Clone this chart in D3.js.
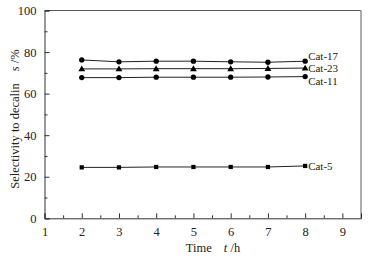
<!DOCTYPE html>
<html><head><meta charset="utf-8">
<script src="https://cdn.jsdelivr.net/npm/d3@7"></script>
<style>body{margin:0;background:#fff}svg{display:block}text{font-family:"Liberation Serif","Times New Roman",serif}</style>
</head><body><svg id="c" width="372" height="261"></svg>
<script>
const times = [2,3,4,5,6,7,8];
const cat17 = [76.2,75.3,75.6,75.6,75.3,75.1,75.6];
const cat23 = [71.9,71.9,72.0,72.0,72.0,72.1,72.3];
const cat11 = [67.7,67.7,67.9,67.9,67.9,68.0,68.2];
const cat5  = [24.5,24.5,24.7,24.7,24.7,24.7,25.2];
const xTicks = [1,2,3,4,5,6,7,8,9];
const yTicks = [0,20,40,60,80,100];
const series = [
  {name:"Cat-17", values:cat17, marker:"circle"},
  {name:"Cat-23", values:cat23, marker:"triangle"},
  {name:"Cat-11", values:cat11, marker:"circle"},
  {name:"Cat-5",  values:cat5,  marker:"square"}
];
const svg = d3.select("#c");
const L=44.5, R=361, T=10.5, B=218.3;
const x = d3.scaleLinear().domain([1,9.5]).range([L,R]);
const y = d3.scaleLinear().domain([0,100]).range([B,T]);

// frame
svg.append("line").attr("x1",L).attr("x2",R).attr("y1",T).attr("y2",T).attr("stroke","#555").attr("stroke-width",1);
svg.append("line").attr("x1",R).attr("x2",R).attr("y1",T).attr("y2",B).attr("stroke","#999").attr("stroke-width",1.6);

// axes
const xAxis = svg.append("g").attr("transform",`translate(0,${B})`)
  .call(d3.axisBottom(x).tickValues(xTicks).tickSize(-5).tickPadding(9).tickFormat(d3.format("d")));
const xMinor = svg.append("g").attr("transform",`translate(0,${B})`)
  .call(d3.axisBottom(x).tickValues(d3.range(1.5,9.5,1)).tickSize(-3).tickFormat(""));
const yAxis = svg.append("g").attr("transform",`translate(${L},0)`)
  .call(d3.axisLeft(y).tickValues(yTicks).tickSize(-5).tickPadding(8));
const yMinor = svg.append("g").attr("transform",`translate(${L},0)`)
  .call(d3.axisLeft(y).tickValues(d3.range(10,100,20)).tickSize(-3).tickFormat(""));
[xAxis,xMinor,yAxis,yMinor].forEach(g=>{
  g.select(".domain").attr("stroke","#333");
  g.selectAll(".tick line").attr("stroke","#333");
  g.selectAll("text").attr("font-size",12.5).attr("fill","#222");
});
xMinor.select(".domain").remove(); yMinor.select(".domain").remove();

// lines and markers
const line = d3.line().x((d,i)=>x(times[i])).y(d=>y(d));
series.forEach(s=>{
  svg.append("path").datum(s.values).attr("d",line).attr("fill","none").attr("stroke","#222").attr("stroke-width",1);
  const sym = s.marker==="circle"?d3.symbolCircle:(s.marker==="triangle"?d3.symbolTriangle:d3.symbolSquare);
  const size = s.marker==="circle"?22:(s.marker==="triangle"?20:18);
  svg.append("g").selectAll("path").data(s.values).join("path")
    .attr("d",d3.symbol(sym,size)).attr("fill","#000")
    .attr("transform",(d,i)=>`translate(${x(times[i])},${y(d)+(s.marker==="triangle"?0.5:0)})`);
});
// series labels (placed at the last point, spread vertically like the reference)
svg.append("g").selectAll("text").data(series).join("text")
  .attr("x",x(times[times.length-1])+3)
  .attr("y",(s,i)=>{const last=s.values[s.values.length-1]; return y(last)+[-1.7,4.4,8.9,4.2][i];})
  .attr("font-size",11).attr("fill","#222").text(s=>s.name);

// axis titles
const xt = svg.append("text").attr("x",213).attr("y",252).attr("text-anchor","middle").attr("font-size",12.5).attr("fill","#222");
xt.append("tspan").text("Time");
xt.append("tspan").attr("dx",12).attr("font-style","italic").text("t");
xt.append("tspan").text(" /h");
const yt = svg.append("text").attr("transform","translate(19,119) rotate(-90)").attr("text-anchor","middle").attr("font-size",12.5).attr("fill","#222");
yt.append("tspan").text("Selectivity to decalin");
yt.append("tspan").attr("dx",12).attr("font-style","italic").text("s");
yt.append("tspan").text(" /%");
</script></body></html>
